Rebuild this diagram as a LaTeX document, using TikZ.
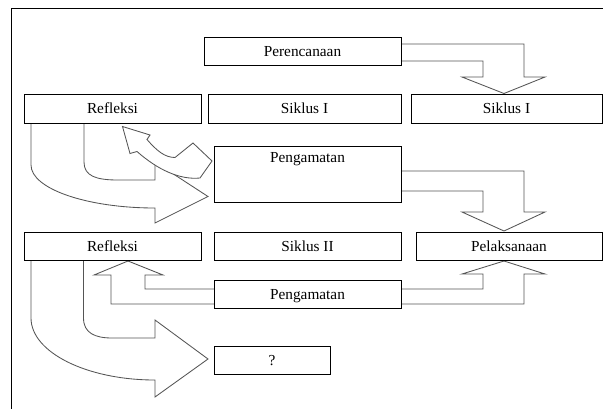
\documentclass[tikz,border=0pt]{standalone}
\usepackage{fontspec}
\setmainfont{Liberation Serif}
\definecolor{arrowgray}{RGB}{85,85,85}
\begin{document}
\begin{tikzpicture}[x=1pt,y=-1pt,
  box/.style={draw=black, line width=0.9pt, fill=white, inner sep=0pt, outer sep=0pt, anchor=north west},
  lbl/.style={inner sep=0pt, anchor=base, font=\fontsize{15.3}{18}\selectfont},
  blk/.style={draw=arrowgray, line width=0.85pt, fill=white, line join=miter}]
\useasboundingbox (0,0) rectangle (603,408);
% frame
\draw[black, line width=0.9pt] (11.5,410) -- (11.5,8.5) -- (605,8.5);

% big curved arrow Refleksi I -> Pengamatan I
\draw[blk] (31,123) -- (31,165) .. controls (31,188.7) and (86.5,208) .. (155,208)
  -- (155,223) -- (208,196.5) -- (155,162) -- (155,180) -- (118,180)
  .. controls (96,180) and (84,176) .. (84,162) -- (84,123);
% curly arrow Pengamatan I -> Refleksi I
\draw[blk] (122.5,126.5) -- (150,135) -- (147,139.5)
  .. controls (157,151) and (165,157.5) .. (175,157.5)
  -- (193,143) -- (212,161) -- (200,178)
  .. controls (180,180) and (158,170) .. (137,151.5) -- (130,153.5) -- cycle;
% big curved arrow Refleksi II -> ?
\draw[blk] (31,260) -- (31,318) .. controls (31,352.2) and (86.5,380) .. (155,380)
  -- (155,397) -- (208,359) -- (155,320) -- (155,338) -- (112,338)
  .. controls (95,338) and (83.5,333) .. (83.5,318) -- (83.5,260);
% Perencanaan -> Siklus I
\draw[blk] (401,44) -- (524,44) -- (524,77) -- (545,77) -- (504,93.5) -- (462,77) -- (483,77) -- (483,61) -- (401,61);
% Pengamatan I -> Pelaksanaan
\draw[blk] (401,171) -- (524,171) -- (524,212) -- (545,212) -- (504,231) -- (462,212) -- (483,212) -- (483,191) -- (401,191);
% Pengamatan II -> Pelaksanaan
\draw[blk] (401,289) -- (483,289) -- (483,274) -- (462,274) -- (504,261) -- (545,274) -- (524,274) -- (524,304) -- (401,304);
% Pengamatan II -> Refleksi II
\draw[blk] (214,304) -- (111,304) -- (111,275) -- (94,275) -- (128,261) -- (163,275) -- (145,275) -- (145,289) -- (214,289);

% boxes
\node[box, minimum width=197pt, minimum height=28pt] (per)   at (204,37)  {};
\node[box, minimum width=177pt, minimum height=29pt] (ref1)  at (24,94)   {};
\node[box, minimum width=193pt, minimum height=29pt] (sik1a) at (208,94)  {};
\node[box, minimum width=191pt, minimum height=29pt] (sik1b) at (411,94)  {};
\node[box, minimum width=187pt, minimum height=56pt] (pen1)  at (214,146) {};
\node[box, minimum width=177pt, minimum height=28pt] (ref2)  at (24,232)  {};
\node[box, minimum width=187pt, minimum height=28pt] (sik2)  at (214,232) {};
\node[box, minimum width=186pt, minimum height=28pt] (pel)   at (416,232) {};
\node[box, minimum width=187pt, minimum height=28pt] (pen2)  at (214,280) {};
\node[box, minimum width=116pt, minimum height=28pt] (q)     at (214,346) {};

% labels
\node[lbl] (tper)   at (302.5,56)    {Perencanaan};
\node[lbl] (tref1)  at (112.5,113)   {Refleksi};
\node[lbl] (tsik1a) at (304.5,113)   {Siklus I};
\node[lbl] (tsik1b) at (506.5,113)   {Siklus I};
\node[lbl] (tpen1)  at (307.5,162.5) {Pengamatan};
\node[lbl] (tref2)  at (112.5,251)   {Refleksi};
\node[lbl] (tsik2)  at (307.5,251)   {Siklus II};
\node[lbl] (tpel)   at (509,251)     {Pelaksanaan};
\node[lbl] (tpen2)  at (307.5,299.5) {Pengamatan};
\node[lbl] (tq)     at (272,365)     {?};
\end{tikzpicture}
\end{document}
